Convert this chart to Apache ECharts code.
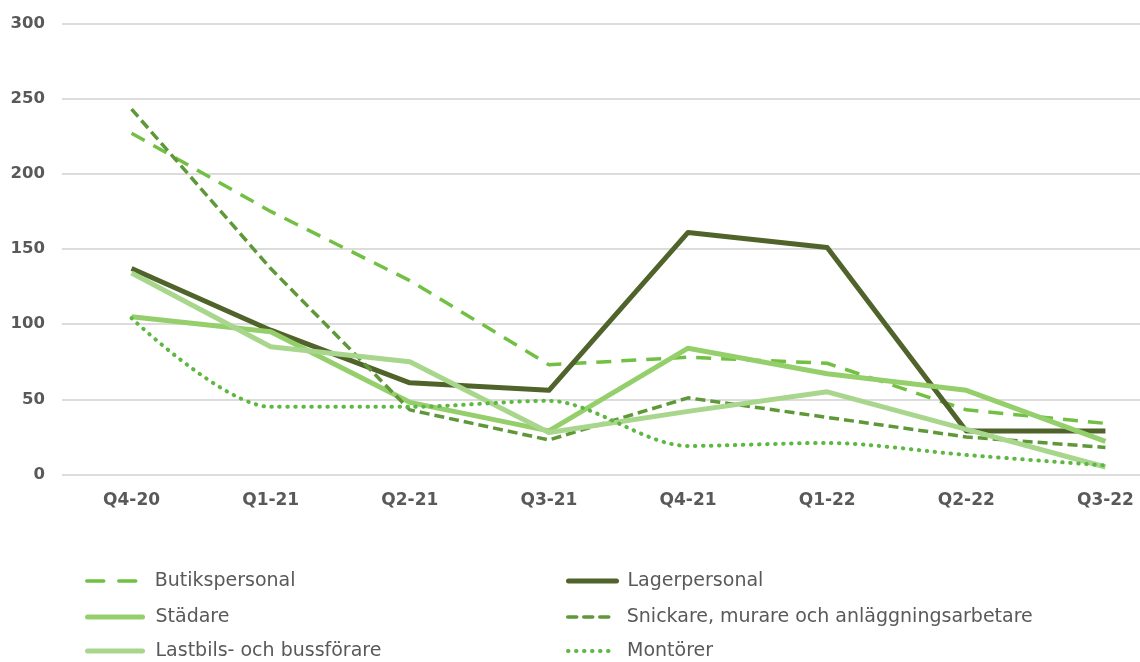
<!DOCTYPE html>
<html>
<head>
<meta charset="utf-8">
<script src="https://cdn.jsdelivr.net/npm/echarts@6/dist/echarts.min.js"></script>
<style>html,body{margin:0;padding:0;background:#fff}#c{width:1140px;height:662px}</style>
</head>
<body>
<div id="c"></div>
<script>
const categories = ['Q4-20','Q1-21','Q2-21','Q3-21','Q4-21','Q1-22','Q2-22','Q3-22'];
const butikspersonal = [227, 175, 129, 73, 78, 74, 43, 34];
const lagerpersonal = [137, 96, 61, 56, 161, 151, 29, 29];
const stadare = [105, 95, 48, 29, 84, 67, 56, 22];
const snickare = [243, 137, 43, 23, 51, 38, 25, 18];
const lastbils = [134, 85, 75, 28, 42, 55, 30, 5];
const montorer = [104, 45, 45, 49, 19, 21, 13, 6];
const yTicks = [0, 50, 100, 150, 200, 250, 300];

const chart = echarts.init(document.getElementById('c'), null, {renderer: 'canvas'});
const textGray = '#595959';
const styles = {
  'Butikspersonal': {color: '#72c043', width: 3.5, type: [15, 10], cap: 'butt'},
  'Lagerpersonal': {color: '#4f632a', width: 5, type: 'solid', cap: 'butt'},
  'Städare': {color: '#95cf6c', width: 5, type: 'solid', cap: 'butt'},
  'Snickare, murare och anläggningsarbetare': {color: '#5e9838', width: 3.5, type: [10, 5], cap: 'butt'},
  'Lastbils- och bussförare': {color: '#a8d68c', width: 5, type: 'solid', cap: 'butt'},
  'Montörer': {color: '#5cb840', width: 4, type: [0.5, 7.5], cap: 'round'}
};
function line(name, data, extra) {
  const s = styles[name];
  return Object.assign({
    name, type: 'line', data, symbol: 'none', showSymbol: false,
    lineStyle: {color: s.color, width: s.width, type: s.type, cap: s.cap, join: 'round'},
    itemStyle: {color: s.color},
    z: 2
  }, extra || {});
}
function legendFor(name, left, top, iconW, pad, legendDash) {
  const s = styles[name];
  return {
    data: [{name, itemStyle: {opacity: 0},
      lineStyle: {color: s.color, width: s.width, type: legendDash || s.type, cap: 'round'}}],
    orient: 'horizontal', left, top, padding: 0, itemWidth: iconW, itemHeight: 14,
    textStyle: {color: textGray, fontFamily: 'DejaVu Sans', fontSize: 19, lineHeight: 20, padding: [0, 0, 0, pad]}
  };
}
chart.setOption({
  animation: false,
  backgroundColor: '#fff',
  grid: {left: 62, width: 1113, top: 23.5, bottom: 187.5, containLabel: false, outerBoundsMode: 'none'},
  xAxis: {
    type: 'category', data: categories, boundaryGap: true,
    axisLine: {show: false}, axisTick: {show: false},
    axisLabel: {color: textGray, fontFamily: 'DejaVu Sans', fontWeight: 'bold', fontSize: 17, margin: 18}
  },
  yAxis: {
    type: 'value', min: yTicks[0], max: yTicks[yTicks.length - 1], interval: 50,
    axisLine: {show: false}, axisTick: {show: false},
    axisLabel: {color: textGray, fontFamily: 'DejaVu Sans', fontWeight: 'bold', fontSize: 16.5, margin: 17},
    splitLine: {lineStyle: {color: '#d0d0d0', width: 1.5}}
  },
  legend: [
    legendFor('Butikspersonal', 85, 571, 55, 8, [17, 15]),
    legendFor('Städare', 85, 607, 55, 8),
    legendFor('Lastbils- och bussförare', 85, 641, 55, 8),
    legendFor('Lagerpersonal', 566, 571, 48, 6),
    legendFor('Snickare, murare och anläggningsarbetare', 566, 607, 48, 6, [9, 7]),
    legendFor('Montörer', 566, 641, 48, 6)
  ],
  series: [
    line('Butikspersonal', butikspersonal),
    line('Lagerpersonal', lagerpersonal),
    line('Städare', stadare),
    line('Snickare, murare och anläggningsarbetare', snickare),
    line('Lastbils- och bussförare', lastbils),
    line('Montörer', montorer, {smooth: 0.3})
  ]
});
</script>
</body>
</html>
